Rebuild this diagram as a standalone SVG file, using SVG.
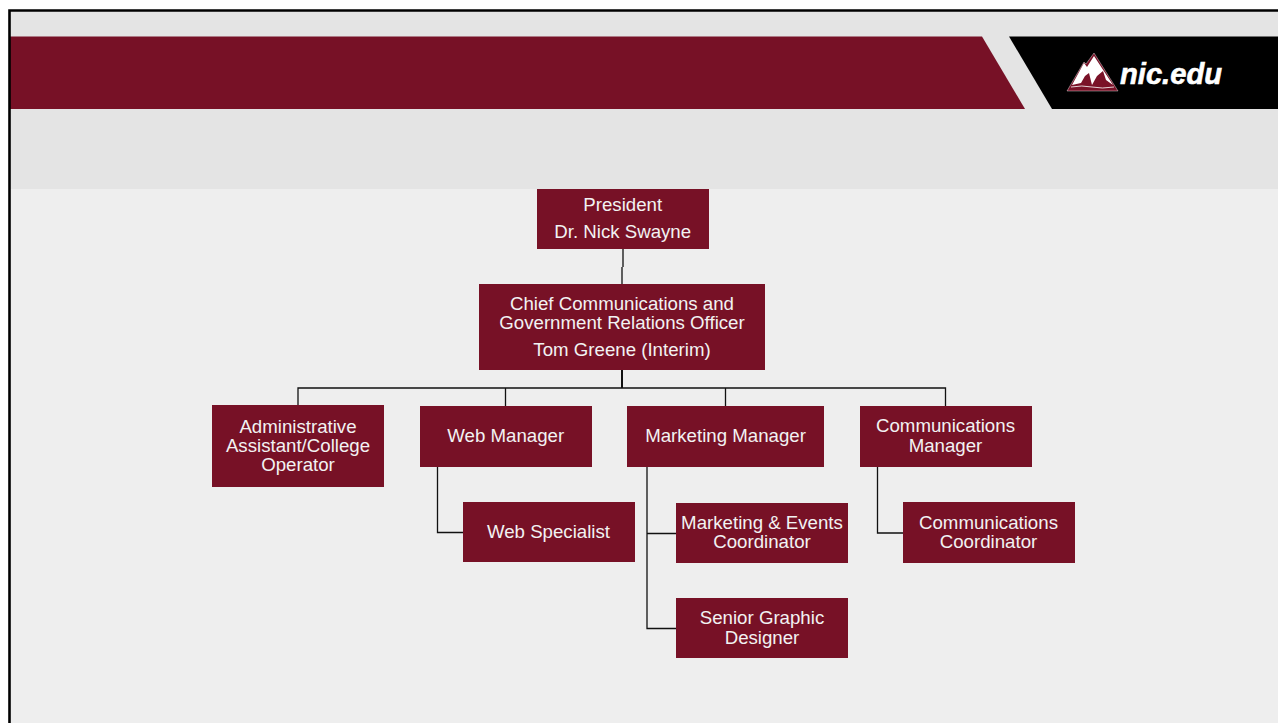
<svg xmlns="http://www.w3.org/2000/svg" width="1278" height="723" viewBox="0 0 1278 723">
<style>
.box{fill:#771126}
.t{font-family:"Liberation Sans",Arial,sans-serif;font-size:18.670px;fill:#f2f2f2;text-anchor:middle}
.c{fill:none;stroke:#111;stroke-width:1.300}
</style>
<rect width="1278" height="723" fill="#fff"/>
<rect x="10" y="11" width="1268" height="712" fill="#eeeeee"/>
<rect x="10" y="11" width="1268" height="178" fill="#e4e4e4"/>
<path d="M10 36.500H982L1025 109H10Z" fill="#771126"/>
<path d="M1009 36.500H1278V109H1052Z" fill="#000"/>
<path d="M9.500 723V10.500H1278" fill="none" stroke="#000" stroke-width="2.600"/>
<g id="logo">
<path d="M1067 91L1084 62L1086 64L1094 53L1118 91Z" fill="#7a1228" stroke="#fff" stroke-width="0.400"/>
<path d="M1072 85L1084 63L1087 67L1094 56L1113 85L1106 80L1103 71L1097 76L1092 85L1089 73L1085 76L1081 83Z" fill="#fff"/>
<path d="M1071 87Q1082 85 1092 87T1114 87" fill="none" stroke="#fff" stroke-width="0.800"/>
<text x="1120" y="84" style="font-family:'Liberation Sans',Arial,sans-serif;font-size:30px;font-weight:700;font-style:italic;fill:#fff;stroke:#fff;stroke-width:0.600" textLength="102" lengthAdjust="spacingAndGlyphs">nic.edu</text>
</g>
<g id="connectors">
<path class="c" d="M623 249V267M622 267V284"/>
<path class="c" style="stroke-width:2" d="M622 370V388"/>
<path class="c" d="M298 405V388H945.500V406M505.500 388V406M725.500 388V406"/>
<path class="c" d="M437.500 467V532.500H463"/>
<path class="c" d="M647 467V628.500H676M647 533.500H676"/>
<path class="c" d="M877.500 467V533H903"/>
</g>
<g id="president"><rect class="box" x="537" y="189" width="172" height="60"/><text class="t" x="622.700" y="211">President</text><text class="t" x="622.700" y="238">Dr. Nick Swayne</text></g>
<g id="chief"><rect class="box" x="479" y="284" width="286" height="86"/><text class="t" x="622" y="310">Chief Communications and</text><text class="t" x="622" y="329">Government Relations Officer</text><text class="t" x="622" y="356">Tom Greene (Interim)</text></g>
<g id="admin"><rect class="box" x="212" y="405" width="172" height="82"/><text class="t" x="298" y="433">Administrative</text><text class="t" x="298" y="452">Assistant/College</text><text class="t" x="298" y="471">Operator</text></g>
<g id="web-manager"><rect class="box" x="420" y="406" width="172" height="61"/><text class="t" x="505.700" y="442">Web Manager</text></g>
<g id="marketing-manager"><rect class="box" x="627" y="406" width="197" height="61"/><text class="t" x="725.500" y="442">Marketing Manager</text></g>
<g id="communications-manager"><rect class="box" x="860" y="406" width="172" height="61"/><text class="t" x="945.500" y="432">Communications</text><text class="t" x="945.500" y="452">Manager</text></g>
<g id="web-specialist"><rect class="box" x="463" y="502" width="172" height="60"/><text class="t" x="548.500" y="538">Web Specialist</text></g>
<g id="events-coordinator"><rect class="box" x="676" y="503" width="172" height="60"/><text class="t" x="762" y="529">Marketing &amp; Events</text><text class="t" x="762" y="548">Coordinator</text></g>
<g id="graphic-designer"><rect class="box" x="676" y="598" width="172" height="60"/><text class="t" x="762" y="624">Senior Graphic</text><text class="t" x="762" y="644">Designer</text></g>
<g id="communications-coordinator"><rect class="box" x="903" y="502" width="172" height="61"/><text class="t" x="988.500" y="529">Communications</text><text class="t" x="988.500" y="548">Coordinator</text></g>
</svg>
